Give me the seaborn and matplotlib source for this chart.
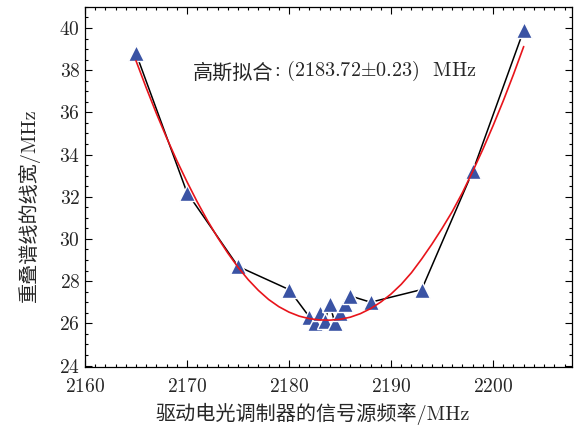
import numpy as np
import matplotlib
matplotlib.use("Agg")
import matplotlib.pyplot as plt
import seaborn as sns
from matplotlib.ticker import MultipleLocator

# measured points (signal frequency / MHz, overlapped line width / MHz)
freq = [2165, 2170, 2175, 2180, 2182, 2182.5, 2183, 2183.5, 2184, 2184.5,
        2185, 2185.5, 2186, 2188, 2193, 2198, 2203]
width = [38.8, 32.2, 28.7, 27.6, 26.3, 26.0, 26.5, 26.1, 26.9, 26.0,
         26.5, 26.9, 27.3, 27.0, 27.6, 33.2, 39.9]

# gaussian fit curve, every 1 MHz
fit_freq = list(range(2165, 2204))
fit_width = [38.45, 37.17, 35.95, 34.80, 33.72, 32.71, 31.76, 30.88, 30.07,
             29.33, 28.66, 28.07, 27.56, 27.13, 26.79, 26.53, 26.34, 26.22,
             26.16, 26.15, 26.19, 26.29, 26.46, 26.70, 27.01, 27.39, 27.85,
             28.40, 29.05, 29.75, 30.50, 31.30, 32.20, 33.20, 34.25, 35.37,
             36.55, 37.80, 39.12]

fit_label = "高斯拟合"
fit_value = r": (2183.72$\pm$0.23)  MHz"
x_label = "驱动电光调制器的信号源频率/MHz"
y_label = "重叠谱线的线宽/MHz"

sns.set_style("ticks")
plt.rcParams['font.family'] = ['cmr10', 'Noto Sans CJK SC', 'DejaVu Sans']
plt.rcParams['axes.formatter.use_mathtext'] = True
plt.rcParams['mathtext.fontset'] = 'cm'
plt.rcParams['font.size'] = 14

fig, ax = plt.subplots(figsize=(5.78, 4.32), dpi=100)
fig.subplots_adjust(left=0.147, right=0.989, top=0.984, bottom=0.150)

sns.lineplot(x=freq, y=width, ax=ax, sort=False, color='black', lw=1.1,
             marker='^', markersize=11, markerfacecolor='#3a53a4',
             markeredgecolor='white', markeredgewidth=1.0, zorder=2)
sns.lineplot(x=fit_freq, y=fit_width, ax=ax, sort=False, color='#e8141b',
             lw=1.2, zorder=3)

# annotation: chinese part and the value part (mathtext for the ±)
t1 = ax.text(0.222, 0.817, fit_label, transform=ax.transAxes, ha='left',
             va='center', fontsize=14.5, family=['Noto Sans CJK SC'])
ax.annotate(fit_value, xy=(1, 0.02), xycoords=t1, ha='left', va='bottom',
            fontsize=14.5)

ax.set_xlim(2160, 2207.7)
ax.set_ylim(23.92, 41.0)
ax.xaxis.set_major_locator(MultipleLocator(10))
ax.xaxis.set_minor_locator(MultipleLocator(1))
ax.yaxis.set_major_locator(MultipleLocator(2))
ax.yaxis.set_minor_locator(MultipleLocator(0.5))
ax.tick_params(which='both', direction='in', top=True, right=True,
               width=0.8, labelsize=14, color='black')
ax.tick_params(which='major', length=5)
ax.tick_params(which='minor', length=2.5)
ax.tick_params(axis='x', which='major', pad=8)
for s in ax.spines.values():
    s.set_linewidth(0.9)
    s.set_color('black')

ax.set_xlabel(x_label, fontsize=14.5)
ax.set_ylabel(y_label, fontsize=14.5)
ax.xaxis.set_label_coords(0.468, -0.10)
ax.yaxis.set_label_coords(-0.092, 0.45)

fig.savefig("out.png", dpi=100)
